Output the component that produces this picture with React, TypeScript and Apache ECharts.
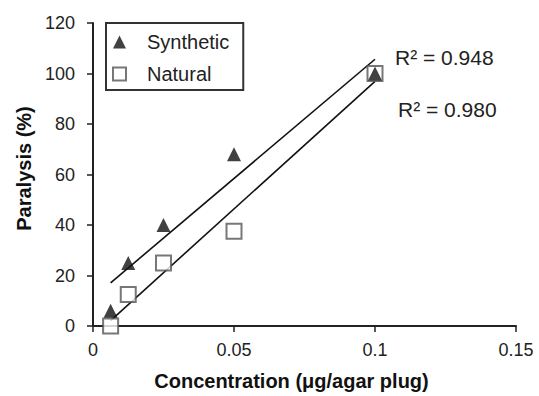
import React, { useEffect, useRef } from "react";
import * as echarts from "echarts";

const concentrations = [0.00625, 0.0125, 0.025, 0.05, 0.1];
const syntheticValues = [6, 25, 40, 68, 100];
const naturalValues = [0, 12.5, 25, 37.5, 100];
const seriesNames = ["Synthetic", "Natural"];
const rSquaredLabels = ["R² = 0.948", "R² = 0.980"];
const xTicks = [0, 0.05, 0.1, 0.15];

const FONT = "'Liberation Sans', Arial, sans-serif";

function fit(xs: number[], ys: number[]) {
  const n = xs.length;
  const mx = xs.reduce((a, b) => a + b, 0) / n;
  const my = ys.reduce((a, b) => a + b, 0) / n;
  let sxx = 0;
  let sxy = 0;
  for (let i = 0; i < n; i++) {
    sxx += (xs[i] - mx) ** 2;
    sxy += (xs[i] - mx) * (ys[i] - my);
  }
  const slope = sxy / sxx;
  const intercept = my - slope * mx;
  const x0 = Math.min(...xs);
  const x1 = Math.max(...xs);
  return [
    [x0, intercept + slope * x0],
    [x1, intercept + slope * x1],
  ];
}

export default function App() {
  const ref = useRef<HTMLDivElement>(null);
  useEffect(() => {
    if (!ref.current) return;
    const chart = echarts.init(ref.current, null, { renderer: "svg" });
    const synPts = concentrations.map((x, i) => [x, syntheticValues[i]]);
    const natPts = concentrations.map((x, i) => [x, naturalValues[i]]);
    chart.setOption({
      animation: false,
      backgroundColor: "#ffffff",
      textStyle: { fontFamily: FONT },
      grid: { left: 93, right: 23, top: 23, bottom: 66 },
      legend: {
        data: seriesNames,
        orient: "vertical",
        left: 106,
        top: 23,
        borderColor: "#333",
        borderWidth: 2,
        padding: [9, 14, 6, 6],
        itemGap: 12,
        itemWidth: 13,
        itemHeight: 13,
        textStyle: { fontSize: 20, color: "#222", fontFamily: FONT, padding: [0, 0, 0, 16] },
      },
      xAxis: {
        type: "value",
        min: 0,
        max: 0.15,
        interval: 0.05,
        name: "Concentration (μg/agar plug)",
        nameLocation: "middle",
        nameGap: 45,
        nameTextStyle: {
          fontSize: 20,
          fontWeight: "bold",
          color: "#111",
          fontFamily: FONT,
          padding: [0, 26, 0, 0],
        },
        axisLine: { lineStyle: { color: "#222", width: 2 } },
        axisTick: { show: true, length: 6, lineStyle: { color: "#222", width: 1.5 } },
        axisLabel: {
          fontSize: 18,
          color: "#222",
          margin: 15,
          formatter: (v: number) => {
            const t = xTicks.find((k) => Math.abs(k - v) < 1e-9);
            return t === undefined ? "" : String(t);
          },
        },
        splitLine: { show: false },
      },
      yAxis: {
        type: "value",
        min: 0,
        max: 120,
        interval: 20,
        name: "Paralysis (%)",
        nameLocation: "middle",
        nameGap: 58,
        nameTextStyle: {
          fontSize: 20,
          fontWeight: "bold",
          color: "#111",
          fontFamily: FONT,
          padding: [0, 0, 0, 12],
        },
        axisLine: { show: true, lineStyle: { color: "#222", width: 2 } },
        axisTick: { show: true, length: 6, lineStyle: { color: "#222", width: 1.5 } },
        axisLabel: { fontSize: 18, color: "#222", margin: 18 },
        splitLine: { show: false },
      },
      series: [
        {
          name: "Synthetic fit",
          type: "line",
          data: fit(concentrations, syntheticValues),
          symbol: "none",
          lineStyle: { color: "#111", width: 1.6 },
          z: 1,
        },
        {
          name: "Natural fit",
          type: "line",
          data: fit(concentrations, naturalValues),
          symbol: "none",
          lineStyle: { color: "#111", width: 1.6 },
          z: 1,
        },
        {
          name: seriesNames[1],
          type: "scatter",
          data: natPts,
          symbol: "rect",
          symbolSize: 15,
          itemStyle: { color: "#ffffff", borderColor: "#555", borderWidth: 2 },
          z: 3,
        },
        {
          name: seriesNames[0],
          type: "scatter",
          data: synPts,
          symbol: "triangle",
          symbolSize: 14,
          itemStyle: { color: "#111" },
          z: 4,
        },
      ],
      graphic: [
        {
          type: "text",
          left: 395,
          top: 47,
          style: { text: rSquaredLabels[0], fontSize: 21, fill: "#222", fontFamily: FONT },
        },
        {
          type: "text",
          left: 398,
          top: 99,
          style: { text: rSquaredLabels[1], fontSize: 21, fill: "#222", fontFamily: FONT },
        },
      ],
    });
    return () => chart.dispose();
  }, []);
  return (
    <div
      ref={ref}
      style={{ position: "absolute", left: 0, top: 0, width: 539, height: 396 }}
    />
  );
}
